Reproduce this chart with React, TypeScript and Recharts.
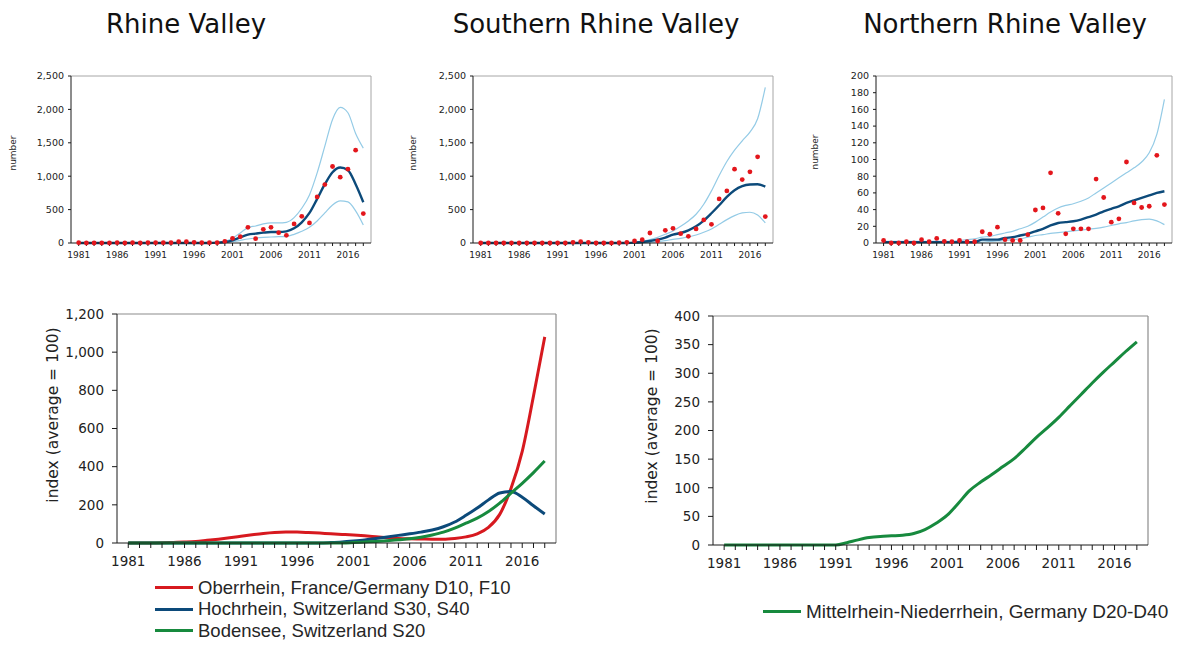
import React from 'react';
import { ComposedChart, LineChart, Line, XAxis, YAxis, ReferenceLine } from 'recharts';

const years = [1981, 1982, 1983, 1984, 1985, 1986, 1987, 1988, 1989, 1990, 1991, 1992, 1993, 1994, 1995, 1996, 1997, 1998, 1999, 2000, 2001, 2002, 2003, 2004, 2005, 2006, 2007, 2008, 2009, 2010, 2011, 2012, 2013, 2014, 2015, 2016, 2017, 2018];
const yearLabels = [1981, 1986, 1991, 1996, 2001, 2006, 2011, 2016];

// Rhine Valley
const rvObs = [5, 0, 0, 0, 0, 5, 0, 5, 0, 5, 5, 5, 5, 20, 20, 10, 5, 5, 5, 25, 70, 95, 235, 65, 205, 235, 155, 115, 285, 400, 300, 690, 875, 1145, 985, 1105, 1390, 440];
const rvFit = [0, 0, 0, 0, 0, 0, 0, 0, 0, 0, 0, 0, 0, 0, 0, 0, 0, 0, 5, 15, 40, 85, 125, 140, 155, 165, 165, 175, 220, 310, 450, 660, 880, 1060, 1130, 1090, 880, 610];
const rvUp = [0, 0, 0, 0, 0, 0, 0, 0, 0, 0, 0, 0, 0, 0, 0, 0, 0, 0, 8, 25, 70, 150, 230, 255, 285, 300, 300, 310, 380, 520, 720, 1050, 1450, 1850, 2030, 1950, 1640, 1420];
const rvLo = [0, 0, 0, 0, 0, 0, 0, 0, 0, 0, 0, 0, 0, 0, 0, 0, 0, 0, 0, 5, 20, 40, 60, 75, 85, 90, 95, 100, 130, 175, 235, 330, 450, 570, 630, 615, 480, 270];

// Southern Rhine Valley
const srvObs = [0, 0, 0, 0, 0, 0, 0, 0, 0, 0, 0, 0, 10, 20, 10, 0, 0, 0, 5, 10, 30, 50, 150, 30, 190, 220, 140, 100, 210, 345, 280, 660, 780, 1105, 950, 1065, 1290, 395];
const srvFit = [0, 0, 0, 0, 0, 0, 0, 0, 0, 0, 0, 0, 0, 0, 0, 0, 0, 0, 0, 0, 5, 15, 30, 50, 80, 125, 150, 190, 250, 335, 445, 565, 690, 790, 850, 875, 880, 845];
const srvUp = [0, 0, 0, 0, 0, 0, 0, 0, 0, 0, 0, 0, 0, 0, 0, 0, 0, 0, 0, 0, 10, 25, 50, 85, 130, 180, 250, 330, 430, 580, 780, 1010, 1220, 1390, 1530, 1660, 1860, 2330];
const srvLo = [0, 0, 0, 0, 0, 0, 0, 0, 0, 0, 0, 0, 0, 0, 0, 0, 0, 0, 0, 0, 0, 0, 10, 20, 35, 55, 70, 90, 120, 160, 210, 280, 350, 410, 450, 460, 420, 300];

// Northern Rhine Valley
const nrvObs = [3, 0, 0, 1.5, 0, 4, 1.5, 5.5, 2, 1.5, 3, 1.5, 1.5, 13.5, 10.5, 19, 4, 3, 3, 10, 39.5, 42, 84, 35.5, 11, 17, 17, 17, 76.5, 54.5, 25, 29, 97, 48, 42.5, 44, 105, 46];
const nrvFit = [1, 1, 1, 1, 1, 1, 1, 1, 1, 1, 1, 1, 1, 4, 4, 4, 6, 7, 9, 11, 14, 17, 21, 24, 25, 26, 28, 31, 34, 38, 41, 44, 48, 51, 54, 57, 60, 62];
const nrvUp = [2, 2, 2, 2, 2, 2, 2, 2, 2, 2, 3, 4, 5, 7, 8, 10, 12, 14, 17, 20, 25, 31, 37, 42, 45, 47, 50, 54, 60, 66, 72, 78, 84, 90, 97, 108, 130, 172];
const nrvLo = [0.5, 0.5, 0.5, 0.5, 0.5, 0.5, 0.5, 0.5, 0.5, 0.5, 0.5, 0.5, 0.5, 1, 2, 2.5, 3, 4, 5, 7, 9, 10, 11.5, 12.5, 13.5, 14.5, 15.5, 16.5, 17.5, 19, 21, 23, 24.5, 26.5, 28, 28.5, 26.5, 22];

// Index charts
const oberrhein = [0, 0, 0, 1, 3, 5, 8, 14, 20, 27, 35, 43, 50, 55, 57, 57, 55, 52, 48, 45, 42, 38, 33, 28, 24, 22, 21, 20, 20, 24, 32, 48, 82, 150, 285, 480, 770, 1080];
const hochrhein = [0, 0, 0, 0, 0, 0, 0, 0, 0, 0, 0, 0, 0, 0, 0, 0, 0, 0, 2, 5, 10, 16, 24, 32, 40, 48, 57, 68, 85, 110, 145, 183, 226, 262, 270, 240, 195, 152];
const bodensee = [0, 0, 0, 0, 0, 0, 0, 0, 0, 0, 0, 0, 0, 0, 0, 0, 0, 0, 0, 0, 2, 5, 8, 12, 17, 22, 30, 42, 57, 78, 104, 130, 165, 209, 261, 313, 369, 430];
const mittelrhein = [0, 0, 0, 0, 0, 0, 0, 0, 0, 0, 0, 4, 9, 13, 15, 16, 17, 20, 27, 38, 52, 73, 95, 110, 123, 137, 151, 169, 188, 205, 223, 243, 263, 283, 302, 320, 338, 355];

const rvTicks = [0, 500, 1000, 1500, 2000, 2500];
const nrvTicks = [0, 20, 40, 60, 80, 100, 120, 140, 160, 180, 200];
const idxTicksL = [0, 200, 400, 600, 800, 1000, 1200];
const idxTicksR = [0, 50, 100, 150, 200, 250, 300, 350, 400];

const seriesNames = [
  'Oberrhein, France/Germany D10, F10',
  'Hochrhein, Switzerland S30, S40',
  'Bodensee, Switzerland S20',
];
const rightName = 'Mittelrhein-Niederrhein, Germany D20-D40';

const RED = '#d7191f';
const DOT = '#e3161c';
const DARK = '#0c4a7a';
const LIGHT = '#94cbe6';
const GREEN = '#178a3e';
const AXIS = '#1a1a1a';
const FRAME = '#a6a6a6';
const DV = 'DejaVu Sans';
const LEG = 'Liberation Sans';

const fmt = (v: number) => v.toLocaleString('en-US');

const makeRows = (obs: number[], fit: number[], up: number[], lo: number[]) =>
  years.map((y, i) => ({ year: y, obs: obs[i], fit: fit[i], up: up[i], lo: lo[i] }));

const YearTick = (props: any) => {
  const { x, y, payload, fontSize } = props;
  if (!yearLabels.includes(payload.value)) return <g />;
  return (
    <text x={x} y={y} dy="0.71em" textAnchor="middle" fontSize={fontSize} fontFamily={DV} fill="#222">
      {payload.value}
    </text>
  );
};

type SmallProps = {
  rows: any[];
  ticks: number[];
  max: number;
  width: number;
  yWidth: number;
  right: number;
};

const SmallChart = ({ rows, ticks, max, width, yWidth, right }: SmallProps) => (
  <ComposedChart width={width} height={210} data={rows} margin={{ top: 16, right, left: 0, bottom: 0 }}>
    <XAxis
      dataKey="year"
      type="number"
      domain={[1980, 2019]}
      ticks={years}
      interval={0}
      height={27}
      tickSize={3}
      tickMargin={6}
      stroke={AXIS}
      tick={<YearTick fontSize={9} />}
    />
    <YAxis
      type="number"
      domain={[0, max]}
      ticks={ticks}
      width={yWidth}
      tickSize={3}
      tickMargin={4}
      stroke={AXIS}
      tickFormatter={fmt}
      tick={{ fill: '#222', fontSize: 9.5, fontFamily: DV }}
    />
    <ReferenceLine y={max} stroke={FRAME} strokeWidth={1} />
    <ReferenceLine x={2019} stroke={FRAME} strokeWidth={1} />
    <Line type="monotone" dataKey="up" stroke={LIGHT} strokeWidth={1.2} dot={false} isAnimationActive={false} />
    <Line type="monotone" dataKey="lo" stroke={LIGHT} strokeWidth={1.2} dot={false} isAnimationActive={false} />
    <Line type="monotone" dataKey="fit" stroke={DARK} strokeWidth={2.4} dot={false} isAnimationActive={false} />
    <Line
      dataKey="obs"
      stroke="none"
      dot={{ r: 2.4, fill: DOT, stroke: 'none' }}
      activeDot={false}
      isAnimationActive={false}
    />
  </ComposedChart>
);

const idxRows = years.map((y, i) => ({
  year: y,
  ober: oberrhein[i],
  hoch: hochrhein[i],
  bod: bodensee[i],
  mit: mittelrhein[i],
}));

const Title = ({ text, cx }: { text: string; cx: number }) => (
  <div
    style={{
      position: 'absolute',
      left: cx,
      top: 9,
      transform: 'translateX(-50%)',
      fontFamily: DV,
      fontSize: 26,
      lineHeight: '30px',
      color: '#111',
      whiteSpace: 'nowrap',
    }}
  >
    {text}
  </div>
);

const VLabel = ({ text, cx, cy, size }: { text: string; cx: number; cy: number; size: number }) => (
  <div
    style={{
      position: 'absolute',
      left: cx,
      top: cy,
      transform: 'translate(-50%, -50%) rotate(-90deg)',
      fontFamily: DV,
      fontSize: size,
      lineHeight: 1,
      color: '#222',
      whiteSpace: 'nowrap',
    }}
  >
    {text}
  </div>
);

const LegendRow = ({ color, text, size }: { color: string; text: string; size: number }) => (
  <div style={{ display: 'flex', alignItems: 'center', height: 21.5 }}>
    <span style={{ display: 'inline-block', width: 38, height: 3, background: color, marginRight: 5 }} />
    <span style={{ fontFamily: LEG, fontSize: size, color: '#262626', whiteSpace: 'nowrap', lineHeight: 1 }}>{text}</span>
  </div>
);

export default function App() {
  return (
    <div style={{ position: 'absolute', left: 0, top: 0, width: 1178, height: 645, background: '#fff', overflow: 'hidden' }}>
      <Title text="Rhine Valley" cx={186} />
      <Title text="Southern Rhine Valley" cx={596} />
      <Title text="Northern Rhine Valley" cx={1005} />

      <div style={{ position: 'absolute', left: 0, top: 60 }}>
        <SmallChart rows={makeRows(rvObs, rvFit, rvUp, rvLo)} ticks={rvTicks} max={2500} width={380} yWidth={71} right={9} />
      </div>
      <div style={{ position: 'absolute', left: 400, top: 60 }}>
        <SmallChart rows={makeRows(srvObs, srvFit, srvUp, srvLo)} ticks={rvTicks} max={2500} width={380} yWidth={73} right={7} />
      </div>
      <div style={{ position: 'absolute', left: 790, top: 60 }}>
        <SmallChart rows={makeRows(nrvObs, nrvFit, nrvUp, nrvLo)} ticks={nrvTicks} max={200} width={388} yWidth={86} right={6} />
      </div>
      <VLabel text="number" cx={13} cy={153} size={9} />
      <VLabel text="number" cx={413} cy={153} size={9} />
      <VLabel text="number" cx={815} cy={152} size={9} />

      <div style={{ position: 'absolute', left: 40, top: 300 }}>
        <LineChart width={530} height={270} data={idxRows} margin={{ top: 14, right: 14, left: 0, bottom: 0 }}>
          <XAxis
            dataKey="year"
            type="number"
            domain={[1980, 2019]}
            ticks={years}
            interval={0}
            height={27}
            tickSize={5}
            tickMargin={8}
            stroke={AXIS}
            tick={<YearTick fontSize={13.5} />}
          />
          <YAxis
            type="number"
            domain={[0, 1200]}
            ticks={idxTicksL}
            width={77}
            tickSize={5}
            tickMargin={8}
            stroke={AXIS}
            tickFormatter={fmt}
            tick={{ fill: '#222', fontSize: 13.5, fontFamily: DV }}
          />
          <ReferenceLine y={1200} stroke="#8c8c8c" strokeWidth={1.2} />
          <ReferenceLine x={2019} stroke="#8c8c8c" strokeWidth={1.2} />
          <Line type="monotone" dataKey="ober" stroke={RED} strokeWidth={3} dot={false} isAnimationActive={false} />
          <Line type="monotone" dataKey="hoch" stroke={DARK} strokeWidth={3} dot={false} isAnimationActive={false} />
          <Line type="monotone" dataKey="bod" stroke={GREEN} strokeWidth={3} dot={false} isAnimationActive={false} />
        </LineChart>
      </div>
      <VLabel text="index (average = 100)" cx={54} cy={415} size={15.5} />

      <div style={{ position: 'absolute', left: 630, top: 300 }}>
        <LineChart width={548} height={270} data={idxRows} margin={{ top: 16, right: 30, left: 0, bottom: 0 }}>
          <XAxis
            dataKey="year"
            type="number"
            domain={[1980, 2019]}
            ticks={years}
            interval={0}
            height={25}
            tickSize={5}
            tickMargin={8}
            stroke={AXIS}
            tick={<YearTick fontSize={13.5} />}
          />
          <YAxis
            type="number"
            domain={[0, 400]}
            ticks={idxTicksR}
            width={83}
            tickSize={5}
            tickMargin={8}
            stroke={AXIS}
            tick={{ fill: '#222', fontSize: 13.5, fontFamily: DV }}
          />
          <ReferenceLine y={400} stroke="#8c8c8c" strokeWidth={1.2} />
          <ReferenceLine x={2019} stroke="#8c8c8c" strokeWidth={1.2} />
          <Line type="monotone" dataKey="mit" stroke={GREEN} strokeWidth={3} dot={false} isAnimationActive={false} />
        </LineChart>
      </div>
      <VLabel text="index (average = 100)" cx={653} cy={416} size={15.5} />

      <div style={{ position: 'absolute', left: 155, top: 577 }}>
        <LegendRow color={RED} text={seriesNames[0]} size={18.5} />
        <LegendRow color={DARK} text={seriesNames[1]} size={18.5} />
        <LegendRow color={GREEN} text={seriesNames[2]} size={18.5} />
      </div>
      <div style={{ position: 'absolute', left: 763, top: 601 }}>
        <LegendRow color={GREEN} text={rightName} size={19} />
      </div>
    </div>
  );
}
